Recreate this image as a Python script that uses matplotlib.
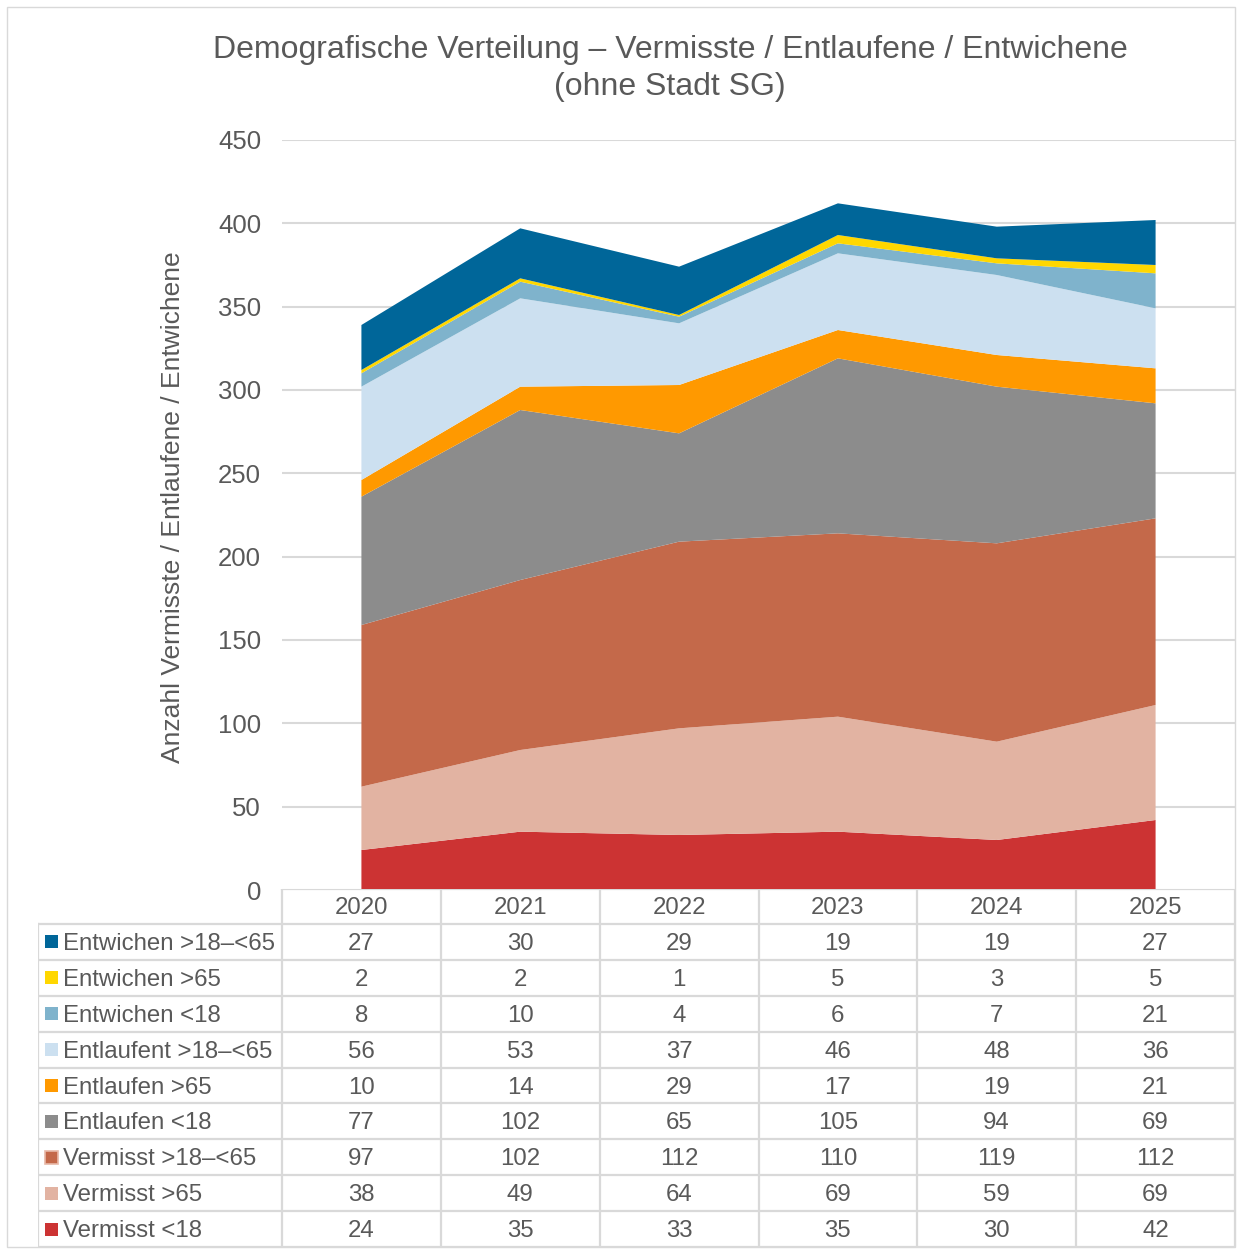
import matplotlib

matplotlib.use("Agg")
import matplotlib.pyplot as plt
from matplotlib.patches import Rectangle

plt.rcParams["font.family"] = ["Liberation Sans", "DejaVu Sans"]

years = ["2020", "2021", "2022", "2023", "2024", "2025"]

# stacking order, bottom to top
series_names = [
    "Vermisst <18",
    "Vermisst >65",
    "Vermisst >18\u2013<65",
    "Entlaufen <18",
    "Entlaufen >65",
    "Entlaufent >18\u2013<65",
    "Entwichen <18",
    "Entwichen >65",
    "Entwichen >18\u2013<65",
]
vermisst_u18 = [24, 35, 33, 35, 30, 42]
vermisst_65 = [38, 49, 64, 69, 59, 69]
vermisst_18_65 = [97, 102, 112, 110, 119, 112]
entlaufen_u18 = [77, 102, 65, 105, 94, 69]
entlaufen_65 = [10, 14, 29, 17, 19, 21]
entlaufen_18_65 = [56, 53, 37, 46, 48, 36]
entwichen_u18 = [8, 10, 4, 6, 7, 21]
entwichen_65 = [2, 2, 1, 5, 3, 5]
entwichen_18_65 = [27, 30, 29, 19, 19, 27]

series_values = [
    vermisst_u18, vermisst_65, vermisst_18_65,
    entlaufen_u18, entlaufen_65, entlaufen_18_65,
    entwichen_u18, entwichen_65, entwichen_18_65,
]
colors = [
    "#CC3333", "#E2B3A2", "#C4694A",
    "#8C8C8C", "#FF9900", "#CCE0F0",
    "#7FB3CC", "#FFD700", "#006699",
]

TXT = "#595959"
GRID = "#D9D9D9"
W, H = 1238, 1249
FS = 17.3

fig = plt.figure(figsize=(W / 100, H / 100), dpi=100)

# outer chart border
fig.patches.append(Rectangle((7 / W, 2 / H), (1235 - 7) / W, (1242 - 2) / H,
                             transform=fig.transFigure, fill=False,
                             edgecolor=GRID, lw=1.0))

# plot area
x0, x1 = 282, 1235
y_top, y_bot = 140, 890
ax = fig.add_axes([x0 / W, (H - y_bot) / H, (x1 - x0) / W, (y_bot - y_top) / H])
xs = list(range(len(years)))
ax.stackplot(xs, *series_values, colors=colors, linewidth=0)
ax.set_xlim(-0.5, len(years) - 0.5)
ax.set_ylim(0, 450)
ax.set_yticks(range(0, 451, 50))
ax.yaxis.grid(True, color=GRID, lw=1.5)
ax.set_axisbelow(True)
ax.set_xticks([])
for s in ax.spines.values():
    s.set_visible(False)
ax.tick_params(axis="y", length=0, pad=15, labelsize=18.5, labelcolor=TXT)
ax.set_ylabel("Anzahl Vermisste / Entlaufene / Entwichene", fontsize=19,
              color=TXT)
ax.yaxis.set_label_coords(-0.102, 0.511)

fig.text(670 / W, 1 - 50 / H, "Demografische Verteilung \u2013 Vermisste / Entlaufene / Entwichene",
         ha="center", va="center", fontsize=23, color=TXT)
fig.text(670 / W, 1 - 87 / H, "(ohne Stadt SG)",
         ha="center", va="center", fontsize=23, color=TXT)

# data table below the plot
tx0, tx1 = 38, 1235
ty0, ty1 = 889, 1247
tax = fig.add_axes([tx0 / W, (H - ty1) / H, (tx1 - tx0) / W, (ty1 - ty0) / H])
tax.set_xlim(tx0, tx1)
tax.set_ylim(ty1, ty0)
tax.axis("off")

head_h = 35
row_h = (ty1 - ty0 - head_h) / len(series_names)
col_w = (x1 - x0) / len(years)
lw = 1.6
dy = 2

# header row
for i, yr in enumerate(years):
    cx = x0 + col_w * (i + 0.5)
    tax.text(cx, ty0 + head_h / 2 + dy, yr, ha="center", va="center",
             fontsize=FS, color=TXT)
tax.plot([x0, x1], [ty0, ty0], color=GRID, lw=lw)
for i in range(len(years) + 1):
    cx = x0 + col_w * i
    tax.plot([cx, cx], [ty0, ty1], color=GRID, lw=lw)
tax.plot([tx0, tx0], [ty0 + head_h, ty1], color=GRID, lw=lw)
for r in range(len(series_names) + 1):
    ry = ty0 + head_h + r * row_h
    tax.plot([tx0, x1], [ry, ry], color=GRID, lw=lw)

# rows, top row is the top series
for r, idx in enumerate(reversed(range(len(series_names)))):
    cy = ty0 + head_h + row_h * (r + 0.5)
    ec = "#E8B9A8" if idx == 2 else colors[idx]
    tax.add_patch(Rectangle((45, cy - 6.5), 13, 13, facecolor=colors[idx],
                            edgecolor=ec, lw=1.2 if idx == 2 else 0))
    tax.text(63, cy + dy, series_names[idx], ha="left", va="center",
             fontsize=FS, color=TXT)
    for i, v in enumerate(series_values[idx]):
        cx = x0 + col_w * (i + 0.5)
        tax.text(cx, cy + dy, str(v), ha="center", va="center",
                 fontsize=FS, color=TXT)

fig.savefig("out.png", dpi=100)
